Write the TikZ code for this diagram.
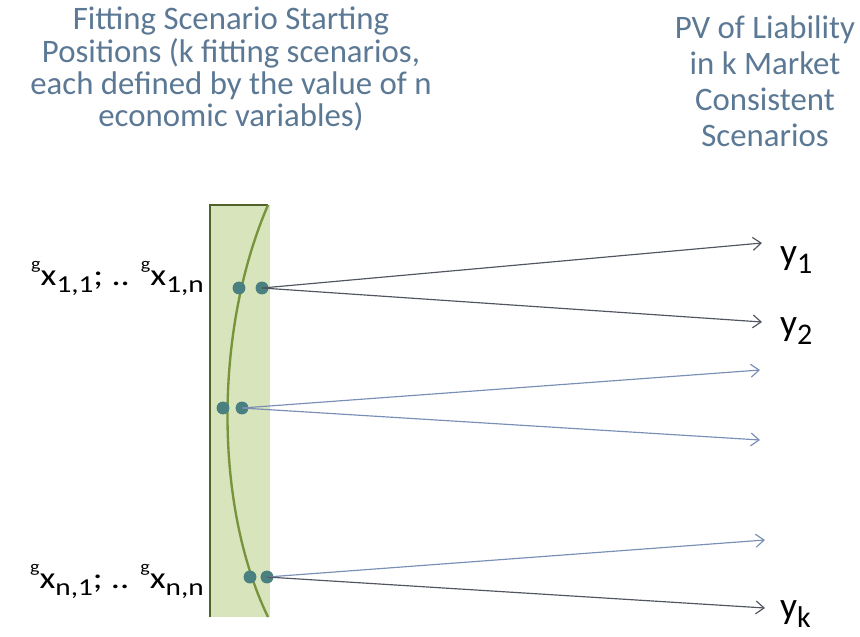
\documentclass[tikz,border=0pt]{standalone}
\usepackage{fontspec}
\setmainfont{Carlito}
\newfontfamily\widefont[FakeStretch=1.2]{Carlito}
\usepackage{tikz}
\usetikzlibrary{arrows.meta,positioning}
\usepackage{xcolor}
\definecolor{HeadBlue}{HTML}{5B7894}
\definecolor{BandFill}{HTML}{D8E4BC}
\definecolor{BandEdge}{HTML}{4F6228}
\definecolor{BandCurve}{HTML}{77933C}
\definecolor{DotTeal}{HTML}{4A8080}
\definecolor{ArrowDark}{HTML}{505560}
\definecolor{ArrowBlue}{HTML}{7A8FB5}
\newcommand{\lowidx}[1]{\raisebox{-0.26em}{\fontsize{0.8em}{1em}\selectfont #1}}
\newcommand{\highidx}[1]{\raisebox{0.5em}{\fontsize{0.55em}{1em}\selectfont #1}}
\tikzset{
  heading/.style={align=center,font=\fontsize{28}{27.5}\selectfont,text=HeadBlue,inner sep=0pt},
  varlabel/.style={font=\widefont\fontsize{26}{30}\selectfont,inner sep=0pt,anchor=base east},
  outlabel/.style={font=\fontsize{32}{36}\selectfont,inner sep=0pt,anchor=base west},
  startdot/.style={circle,fill=DotTeal,minimum size=11pt,inner sep=0pt},
  scenarrow/.style={-{Straight Barb[length=7pt,width=11pt]},line width=1pt,draw=ArrowDark},
  lightarrow/.style={scenarrow,draw=ArrowBlue}
}
\begin{document}
\begin{tikzpicture}[x=0.03cm,y=-0.03cm]
  \useasboundingbox (0,0) rectangle (860,636);
  % band of starting positions
  \fill[BandFill] (210,205) rectangle (270,617);
  \draw[BandEdge,line width=2.2pt] (210,617) -- (210,205) -- (268,205);
  \draw[BandCurve,line width=2pt] (268,205) .. controls (214,330) and (214,505) .. (268,617);

  \node[heading,anchor=north] (lefthead) at (231,7) {Fitting Scenario Starting\\Positions (k fitting scenarios,\\each defined by the value of n\\economic variables)};
  \node[heading,anchor=north,font=\fontsize{28}{31}\selectfont] (righthead) at (765,15) {PV of Liability\\in k Market\\Consistent\\Scenarios};

  \node[startdot] (d1a) at (239,288) {};
  \node[startdot] (d1b) at (262,288) {};
  \node[startdot] (d2a) at (223,408) {};
  \node[startdot] (d2b) at (242,408) {};
  \node[startdot] (d3a) at (250,577) {};
  \node[startdot] (d3b) at (267,577) {};

  \node[varlabel] (xfirst) at (204,285) {\highidx{g}x\lowidx{1,1}; .. \highidx{g}x\lowidx{1,n}};
  \node[varlabel] (xlast) at (204,588) {\highidx{g}x\lowidx{n,1}; .. \highidx{g}x\lowidx{n,n}};

  \coordinate (t1) at (762,243);
  \coordinate (t2) at (762,322);
  \coordinate (t3) at (760,370);
  \coordinate (t4) at (760,440);
  \coordinate (t5) at (765,540);
  \coordinate (t6) at (765,608);

  \node[outlabel] (y1) at (780,264) {y\lowidx{1}};
  \node[outlabel] (y2) at (780,335) {y\lowidx{2}};
  \node[outlabel] (yk) at (780,618) {y\lowidx{k}};

  \draw[scenarrow] (d1b.center) -- (t1);
  \draw[scenarrow] (d1b.center) -- (t2);
  \draw[lightarrow] (d2b.center) -- (t3);
  \draw[lightarrow] (d2b.center) -- (t4);
  \draw[lightarrow] (d3b.center) -- (t5);
  \draw[scenarrow] (d3b.center) -- (t6);
\end{tikzpicture}
\end{document}
